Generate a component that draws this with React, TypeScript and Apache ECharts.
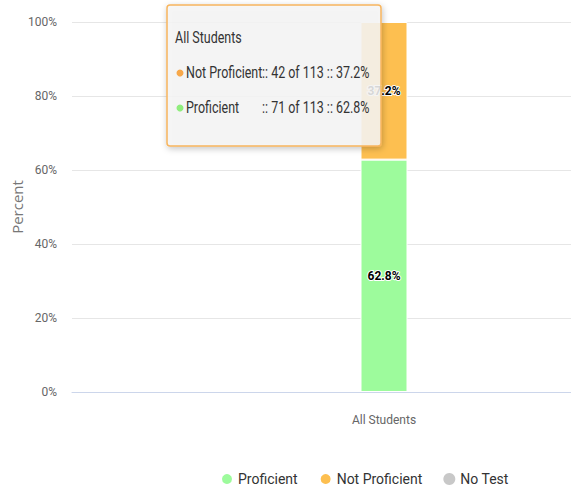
import React, { useEffect, useRef } from "react";
import * as echarts from "echarts";

const categories = ["All Students"];
const proficient = [62.8];
const notProficient = [37.2];
const noTest = [0];
const yTicks = [0, 20, 40, 60, 80, 100];
const tooltipTitle = "All Students";
const tooltipRows = [
  { name: "Not Proficient", detail: ":: 42 of 113 :: 37.2%", color: "#f7a84a" },
  { name: "Proficient", detail: ":: 71 of 113 :: 62.8%", color: "#90ed7d" },
];

const FONT = "Roboto, sans-serif";

export default function App() {
  const ref = useRef<HTMLDivElement>(null);
  useEffect(() => {
    if (!ref.current) return;
    const chart = echarts.init(ref.current, null, { renderer: "svg" });
    const labelStyle = {
      show: true,
      position: "inside",
      formatter: (p: any) => (p.value > 0 ? p.value.toFixed(1) + "%" : ""),
      color: "#000",
      fontFamily: FONT,
      fontWeight: "bold",
      fontSize: 12,
      textBorderColor: "#fff",
      textBorderWidth: 2,
    };
    const Z = 100;
    const tText = (text: string, x: number, y: number) => ({
      type: "text",
      x,
      y,
      z: Z,
      scaleX: 0.78,
      style: {
        text,
        fill: "#333",
        fontFamily: FONT,
        fontSize: 16,
        verticalAlign: "middle",
      },
    });
    chart.setOption({
      animation: false,
      backgroundColor: "#fff",
      grid: { left: 72, top: 22, height: 370, width: 624, containLabel: false, outerBoundsMode: "none" },
      xAxis: {
        type: "category",
        data: categories,
        axisLine: { lineStyle: { color: "#ccd6eb", width: 1 } },
        axisTick: { show: false },
        axisLabel: { color: "#666", fontFamily: FONT, fontSize: 12, margin: 22 },
      },
      yAxis: {
        type: "value",
        min: yTicks[0],
        max: yTicks[yTicks.length - 1],
        interval: 20,
        name: "Percent",
        nameLocation: "middle",
        nameRotate: 90,
        nameGap: 48,
        nameMoveOverlap: false,
        nameTextStyle: { color: "#777", fontFamily: "Open Sans", fontSize: 15 },
        axisLine: { show: false },
        axisTick: { show: false },
        axisLabel: {
          color: "#666",
          fontFamily: FONT,
          fontSize: 12,
          margin: 15,
          formatter: (v: number) => v + "%",
        },
        splitLine: { lineStyle: { color: "#e6e6e6", width: 1 } },
      },
      legend: {
        bottom: 3,
        left: 215,
        icon: "circle",
        itemWidth: 12,
        itemHeight: 12,
        itemGap: 21,
        textStyle: { color: "#333", fontFamily: FONT, fontSize: 14 },
        data: ["Proficient", "Not Proficient", "No Test"],
      },
      series: [
        {
          name: "Proficient",
          type: "bar",
          stack: "s",
          barWidth: 47,
          data: proficient,
          itemStyle: { color: "#9dfb9c", borderColor: "#fff", borderWidth: 1 },
          label: labelStyle,
        },
        {
          name: "Not Proficient",
          type: "bar",
          stack: "s",
          barWidth: 47,
          data: notProficient,
          itemStyle: { color: "#fdbf50", borderColor: "#fff", borderWidth: 1 },
          label: labelStyle,
        },
        {
          name: "No Test",
          type: "bar",
          stack: "s",
          barWidth: 47,
          data: noTest,
          itemStyle: { color: "#c8c8c8" },
          label: labelStyle,
        },
      ],
      graphic: [
        {
          type: "group",
          x: 167,
          y: 5,
          z: Z,
          children: [
            {
              type: "rect",
              z: Z,
              shape: { x: 0, y: 0, width: 214, height: 141, r: 3 },
              style: {
                fill: "rgba(247,247,247,0.85)",
                stroke: "#f7b55e",
                lineWidth: 1.5,
                shadowBlur: 6,
                shadowOffsetX: 1,
                shadowOffsetY: 2,
                shadowColor: "rgba(0,0,0,0.25)",
              },
            },
            tText(tooltipTitle, 8, 33),
            ...tooltipRows.flatMap((r, i) => [
              {
                type: "circle",
                z: Z,
                shape: { cx: 13, cy: 68 + i * 35, r: 3.5 },
                style: { fill: r.color },
              },
              tText(r.name, 19, 68 + i * 35),
              tText(r.detail, 95, 68 + i * 35),
            ]),
          ],
        },
      ],
    });
    return () => chart.dispose();
  }, []);
  return <div ref={ref} style={{ width: 571, height: 494, position: "absolute", left: 0, top: 0 }} />;
}
